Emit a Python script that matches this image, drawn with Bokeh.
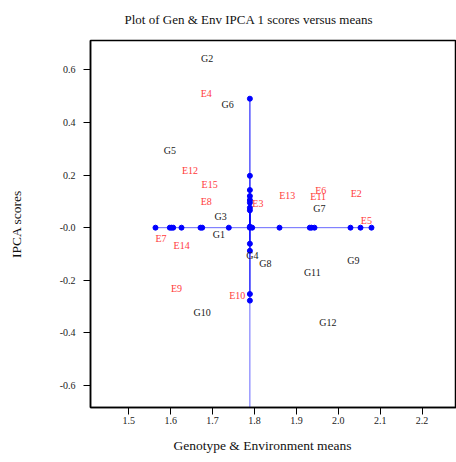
from bokeh.plotting import figure
from bokeh.models import (FixedTicker, CustomJSTickFormatter, Range1d,
                          ColumnDataSource, Title)
from bokeh.core.properties import value
from bokeh.embed import file_html
from bokeh.resources import INLINE

# ---- data ----
gen_labels = ["G1", "G2", "G3", "G4", "G5", "G6", "G7", "G8", "G9", "G10", "G11", "G12"]
gen_means = [1.715, 1.687, 1.719, 1.795, 1.598, 1.736, 1.955, 1.826, 2.036, 1.675, 1.938, 1.975]
gen_ipca = [-0.025, 0.642, 0.044, -0.105, 0.293, 0.467, 0.073, -0.135, -0.123, -0.324, -0.172, -0.362]

env_labels = ["E2", "E3", "E4", "E5", "E6", "E7", "E8", "E9", "E10", "E11", "E12", "E13", "E14", "E15"]
env_means = [2.043, 1.808, 1.685, 2.067, 1.958, 1.577, 1.685, 1.614, 1.759, 1.952, 1.646, 1.878, 1.626, 1.693]
env_ipca = [0.130, 0.092, 0.511, 0.028, 0.142, -0.040, 0.101, -0.230, -0.256, 0.119, 0.217, 0.123, -0.067, 0.164]

grand_mean = 1.789
mean_marks = [1.5637, 1.5979, 1.6019, 1.606, 1.6258, 1.6711, 1.6752, 1.7387, 1.7888,
              1.7945, 1.8597, 1.932, 1.936, 1.9432, 2.0291, 2.053, 2.0792]
score_marks = [0.490, 0.197, 0.143, 0.120, 0.105, 0.095, 0.076, 0.066, 0.004,
               -0.061, -0.088, -0.252, -0.277]

x_ticks = [1.5, 1.6, 1.7, 1.8, 1.9, 2.0, 2.1, 2.2]
y_ticks = [-0.6, -0.4, -0.2, 0.0, 0.2, 0.4, 0.6]

title_text = "Plot of Gen & Env IPCA 1 scores versus means"
xlabel_text = "Genotype & Environment means"
ylabel_text = "IPCA scores"

FONT = "Liberation Serif"
BLUE = "#0000FF"

xr = Range1d(1.4086, 2.2821)
yr = Range1d(-0.683, 0.711)

p = figure(width=456, height=462, x_range=xr, y_range=yr,
           output_backend="svg", toolbar_location=None,
           min_border_left=90, min_border_right=0,
           min_border_top=39, min_border_bottom=55)

p.background_fill_color = "white"
p.border_fill_color = "white"
p.grid.grid_line_color = None
p.outline_line_color = "black"
p.outline_line_width = 1.5

# title
p.title.text = title_text
p.title.align = "left"
p.title.offset = 34
p.title.text_font = FONT
p.title.text_font_size = "13px"
p.title.text_font_style = "normal"
p.title.text_color = "#111111"
p.title.vertical_align = "top"
p.title.standoff = 23

for ax in (p.xaxis[0], p.yaxis[0]):
    ax.axis_line_width = 1.5
    ax.axis_line_color = "black"
    ax.major_tick_in = 0
    ax.major_tick_out = 7
    ax.major_tick_line_color = "black"
    ax.minor_tick_line_color = None
    ax.major_label_text_font = FONT
    ax.major_label_text_font_size = "10px"
    ax.major_label_text_color = "#222222"
    ax.axis_label_text_font = FONT
    ax.axis_label_text_font_size = "13.5px"
    ax.axis_label_text_font_style = "normal"
    ax.axis_label_text_color = "#111111"

p.xaxis.ticker = FixedTicker(ticks=x_ticks)
p.yaxis.ticker = FixedTicker(ticks=y_ticks)
p.xaxis.formatter = CustomJSTickFormatter(code="return tick.toFixed(1);")
p.yaxis.formatter = CustomJSTickFormatter(
    code="return Math.abs(tick) < 1e-9 ? '-0.0' : tick.toFixed(1);")
p.xaxis.major_label_standoff = 2
p.yaxis.major_label_standoff = 8
p.yaxis.axis_label = ylabel_text
p.yaxis.axis_label_standoff = 33

# x axis title placed like the original (not centred on the visible frame)
xlab = Title(text=xlabel_text, align="left", offset=83,
             text_font=FONT, text_font_size="13.5px", text_font_style="normal",
             text_color="#111111", vertical_align="bottom", standoff=19)
p.add_layout(xlab, "below")

# blue cross lines
p.segment(x0=[min(mean_marks)], y0=[0], x1=[max(mean_marks)], y1=[0],
          line_color=BLUE, line_width=1, line_alpha=0.6)
p.segment(x0=[grand_mean], y0=[yr.start], x1=[grand_mean], y1=[max(score_marks)],
          line_color=BLUE, line_width=1, line_alpha=0.6)
p.segment(x0=[grand_mean] * len(score_marks), y0=[0] * len(score_marks),
          x1=[grand_mean] * len(score_marks), y1=score_marks,
          line_color=BLUE, line_width=1.3, line_alpha=0.45)

p.scatter(x=mean_marks, y=[0] * len(mean_marks), size=5,
          fill_color=BLUE, line_color=BLUE)
p.scatter(x=[grand_mean] * len(score_marks), y=score_marks, size=5,
          fill_color=BLUE, line_color=BLUE)

# labels
gsrc = ColumnDataSource(dict(x=gen_means, y=gen_ipca, t=gen_labels))
esrc = ColumnDataSource(dict(x=env_means, y=env_ipca, t=env_labels))
p.text(x="x", y="y", text="t", source=gsrc, text_font=value(FONT),
       text_font_size="10px", text_color="#1a1a1a",
       text_align="center", text_baseline="middle")
p.text(x="x", y="y", text="t", source=esrc, text_font=value(FONT),
       text_font_size="10px", text_color="#FF3B3B",
       text_align="center", text_baseline="middle")

open("out.html", "w").write(file_html(p, INLINE))
